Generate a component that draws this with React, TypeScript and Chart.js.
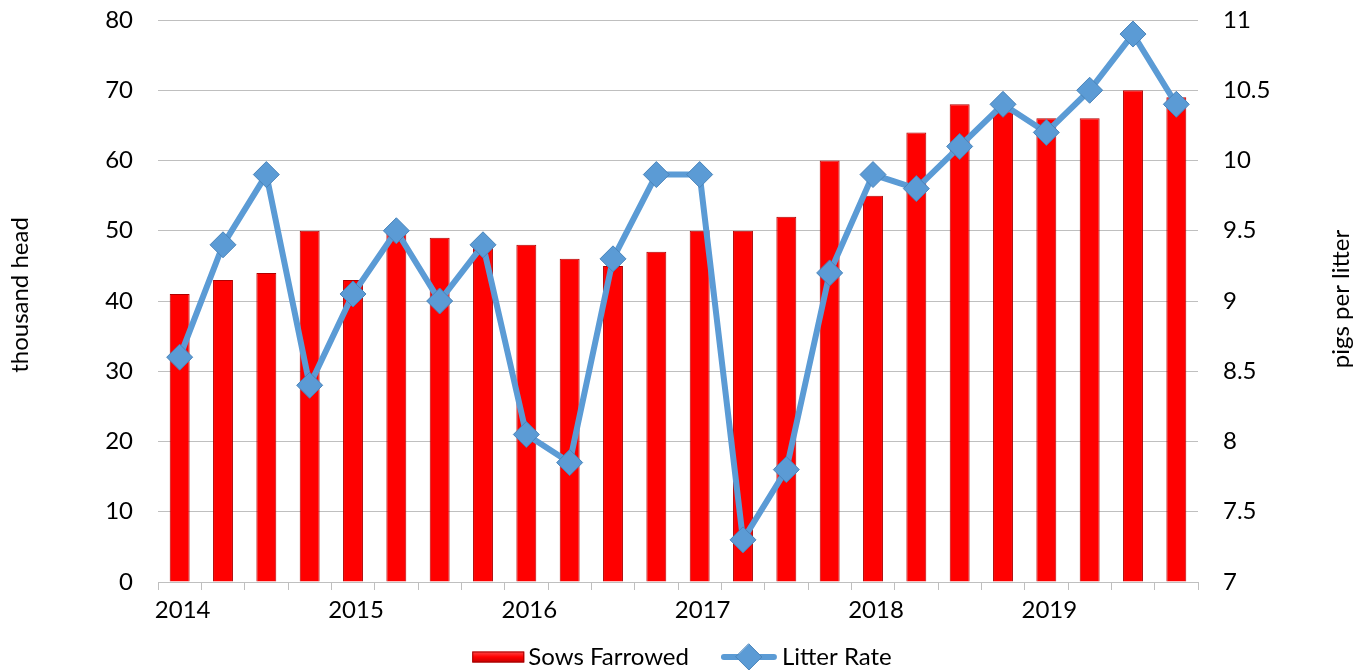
import React, { useEffect, useRef } from 'react';
import { Chart, registerables } from 'chart.js';

Chart.register(...registerables);

const categories = [
  '2014 Q1', '2014 Q2', '2014 Q3', '2014 Q4',
  '2015 Q1', '2015 Q2', '2015 Q3', '2015 Q4',
  '2016 Q1', '2016 Q2', '2016 Q3', '2016 Q4',
  '2017 Q1', '2017 Q2', '2017 Q3', '2017 Q4',
  '2018 Q1', '2018 Q2', '2018 Q3', '2018 Q4',
  '2019 Q1', '2019 Q2', '2019 Q3', '2019 Q4',
];
const yearLabels = ['2014', '2015', '2016', '2017', '2018', '2019'];
const sowsFarrowed = [41, 43, 44, 50, 43, 50, 49, 48, 48, 46, 45, 47, 50, 50, 52, 60, 55, 64, 68, 67, 66, 66, 70, 69];
const litterRate = [8.6, 9.4, 9.9, 8.4, 9.05, 9.5, 9.0, 9.4, 8.05, 7.85, 9.3, 9.9, 9.9, 7.3, 7.8, 9.2, 9.9, 9.8, 10.1, 10.4, 10.2, 10.5, 10.9, 10.4];
const leftAxisTitle = 'thousand head';
const rightAxisTitle = 'pigs per litter';
const barLabel = 'Sows Farrowed';
const lineLabel = 'Litter Rate';

const FONT = 'Lato';
const FS = 24;
const LINE_BLUE = '#5B9BD5';
const GRID = '#BFBFBF';

const extrasPlugin = {
  id: 'extras',
  afterDraw(chart: any) {
    const ctx = chart.ctx as CanvasRenderingContext2D;
    const area = chart.chartArea;
    ctx.save();
    ctx.font = `${FS}px ${FONT}`;
    ctx.fillStyle = '#000';
    ctx.textBaseline = 'middle';
    ctx.textAlign = 'center';
    // axis titles
    const cy = (area.top + area.bottom) / 2 - 6;
    ctx.save();
    ctx.translate(20, cy);
    ctx.rotate(-Math.PI / 2);
    ctx.fillText(leftAxisTitle, 0, 0);
    ctx.restore();
    ctx.save();
    ctx.translate(chart.width - 23, cy + 4);
    ctx.rotate(-Math.PI / 2);
    ctx.fillText(rightAxisTitle, 0, 0);
    ctx.restore();

    // legend
    ctx.textAlign = 'left';
    const w1 = ctx.measureText(barLabel).width;
    const w2 = ctx.measureText(lineLabel).width;
    const boxW = 52, gap = 4, mid = 32, lineW = 56, gap2 = 5;
    const total = boxW + gap + w1 + mid + lineW + gap2 + w2;
    let x = chart.width / 2 - total / 2;
    const y = 657;
    const grad = ctx.createLinearGradient(0, y - 6, 0, y + 6);
    grad.addColorStop(0, '#FF5050');
    grad.addColorStop(0.5, '#FF0000');
    grad.addColorStop(1, '#C00000');
    ctx.fillStyle = grad;
    ctx.fillRect(x, y - 5.5, boxW, 11);
    ctx.strokeStyle = '#A00000';
    ctx.lineWidth = 1;
    ctx.strokeRect(x + 0.5, y - 5, boxW - 1, 10);
    x += boxW + gap;
    ctx.fillStyle = '#000';
    ctx.fillText(barLabel, x, y);
    x += w1 + mid;
    ctx.strokeStyle = LINE_BLUE;
    ctx.lineWidth = 6;
    ctx.lineCap = 'round';
    ctx.beginPath();
    ctx.moveTo(x + 3, y);
    ctx.lineTo(x + lineW - 3, y);
    ctx.stroke();
    const cx = x + lineW / 2;
    ctx.beginPath();
    ctx.moveTo(cx, y - 13);
    ctx.lineTo(cx + 13, y);
    ctx.lineTo(cx, y + 13);
    ctx.lineTo(cx - 13, y);
    ctx.closePath();
    ctx.fillStyle = LINE_BLUE;
    ctx.fill();
    ctx.strokeStyle = '#4A84BA';
    ctx.lineWidth = 1;
    ctx.stroke();
    x += lineW + gap2;
    ctx.fillStyle = '#000';
    ctx.fillText(lineLabel, x, y);
    ctx.restore();
  },
};

export default function App() {
  const ref = useRef<HTMLCanvasElement | null>(null);

  useEffect(() => {
    document.body.style.margin = '0';
    const canvas = ref.current;
    if (!canvas) return;
    const chart = new Chart(canvas, {
      type: 'bar',
      data: {
        labels: categories,
        datasets: [
          {
            type: 'line',
            label: lineLabel,
            data: litterRate,
            yAxisID: 'y1',
            borderColor: LINE_BLUE,
            borderWidth: 6,
            backgroundColor: LINE_BLUE,
            pointStyle: 'rectRot',
            pointRadius: 13,
            pointBackgroundColor: LINE_BLUE,
            pointBorderColor: '#4A84BA',
            pointBorderWidth: 1,
            tension: 0,
            order: 0,
          } as any,
          {
            type: 'bar',
            label: barLabel,
            data: sowsFarrowed,
            yAxisID: 'y',
            backgroundColor: '#FF0000',
            borderColor: '#B00000',
            borderWidth: 1,
            barPercentage: 0.46,
            categoryPercentage: 1,
            order: 1,
          } as any,
        ],
      },
      options: {
        responsive: false,
        animation: false,
        layout: { padding: { top: 20, left: 0, right: 0, bottom: 0 } },
        plugins: {
          legend: { display: false },
          tooltip: { enabled: false },
        },
        scales: {
          x: {
            offset: true,
            afterFit: (s: any) => { s.height = 89; },
            grid: {
              display: true,
              offset: true,
              drawOnChartArea: false,
              drawTicks: true,
              tickLength: 8,
              color: GRID,
            },
            border: { display: true, color: GRID },
            ticks: {
              autoSkip: false,
              maxRotation: 0,
              minRotation: 0,
              padding: 6,
              labelOffset: 3,
              color: '#000',
              font: { family: FONT, size: FS },
              callback: (_v: any, i: number) => (i % 4 === 0 ? yearLabels[i / 4] : ''),
            },
          },
          y: {
            position: 'left',
            min: 0,
            max: 80,
            afterFit: (s: any) => { s.width = 158; },
            grid: { color: GRID, drawTicks: true, tickLength: 25, tickColor: 'rgba(0,0,0,0)' },
            border: { display: false },
            ticks: {
              stepSize: 10,
              padding: 0,
              color: '#000',
              font: { family: FONT, size: FS },
            },
          },
          y1: {
            position: 'right',
            min: 7,
            max: 11,
            afterFit: (s: any) => { s.width = 166; },
            grid: { display: true, drawOnChartArea: false, drawTicks: true, tickLength: 25, tickColor: 'rgba(0,0,0,0)', color: 'rgba(0,0,0,0)' },
            border: { display: false },
            ticks: {
              stepSize: 0.5,
              padding: 0,
              color: '#000',
              font: { family: FONT, size: FS },
              callback: (v: any) => String(Math.round(Number(v) * 10) / 10),
            },
          },
        },
      } as any,
      plugins: [extrasPlugin],
    });
    return () => chart.destroy();
  }, []);

  return (
    <div style={{ width: 1364, height: 671 }}>
      <canvas ref={ref} width={1364} height={671} style={{ display: 'block' }} />
    </div>
  );
}
